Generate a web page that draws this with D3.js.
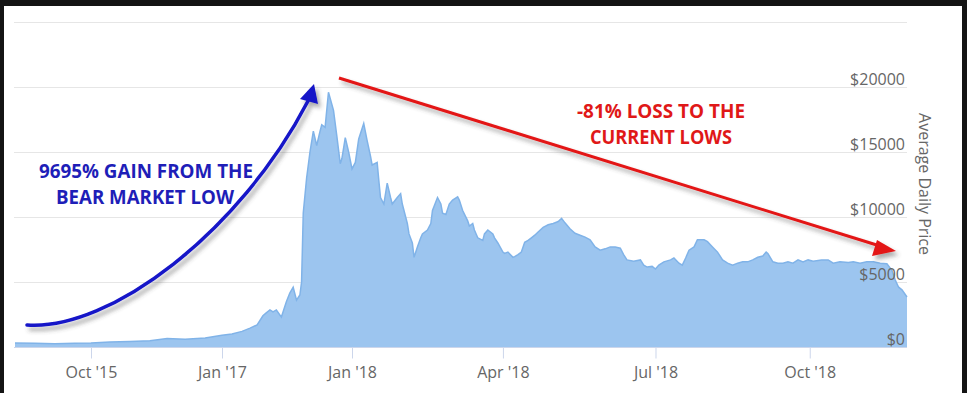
<!DOCTYPE html>
<html><head><meta charset="utf-8">
<script src="https://cdn.jsdelivr.net/npm/d3@7"></script>
<style>html,body{margin:0;padding:0;background:#fff;overflow:hidden}svg{display:block}</style>
</head><body><svg id="c" width="967" height="393"></svg>
<script>
// ---------- data ----------
const dates = [
"2015-01-06","2015-03-17","2015-05-26","2015-08-04","2015-10-01","2015-12-06","2016-02-14","2016-04-24",
"2016-06-23","2016-08-25","2016-11-03","2017-01-01","2017-03-04","2017-05-06","2017-06-25","2017-08-08",
"2017-09-13","2017-10-02","2017-10-27","2017-11-15",
"2017-11-17","2017-11-20","2017-11-23","2017-11-25","2017-11-27","2017-11-29","2017-12-01","2017-12-02",
"2017-12-03","2017-12-05","2017-12-07","2017-12-09","2017-12-11","2017-12-13","2017-12-14","2017-12-16",
"2017-12-18","2017-12-21","2017-12-23","2017-12-25","2017-12-26","2017-12-28","2017-12-30",
"2018-01-01","2018-01-03","2018-01-05","2018-01-08","2018-01-10","2018-01-12","2018-01-13","2018-01-16",
"2018-01-17","2018-01-18","2018-01-20","2018-01-22","2018-01-24","2018-01-25","2018-01-28","2018-01-30",
"2018-01-31","2018-02-03","2018-02-04","2018-02-06","2018-02-07","2018-02-09","2018-02-11","2018-02-12",
"2018-02-15","2018-02-17","2018-02-18","2018-02-21","2018-02-23","2018-02-24","2018-02-26","2018-02-28",
"2018-03-02","2018-03-05","2018-03-06","2018-03-08","2018-03-11","2018-03-12","2018-03-14","2018-03-15",
"2018-03-17","2018-03-20","2018-03-21","2018-03-23","2018-03-26","2018-03-27","2018-03-29","2018-04-01",
"2018-04-02","2018-04-04","2018-04-07","2018-04-08","2018-04-10","2018-04-12","2018-04-14","2018-04-16",
"2018-04-18","2018-04-20","2018-04-22","2018-04-25","2018-04-28","2018-05-01","2018-05-04","2018-05-06",
"2018-05-08","2018-05-11","2018-05-14","2018-05-17","2018-05-20","2018-05-23","2018-05-26","2018-05-29",
"2018-06-01","2018-06-04","2018-06-07","2018-06-10","2018-06-12","2018-06-14","2018-06-18","2018-06-22",
"2018-06-24","2018-06-26","2018-06-29","2018-07-01","2018-07-03","2018-07-06","2018-07-10","2018-07-12",
"2018-07-15","2018-07-17","2018-07-19","2018-07-21","2018-07-24","2018-07-26","2018-07-30","2018-08-01",
"2018-08-04","2018-08-07","2018-08-10","2018-08-13","2018-08-16","2018-08-19","2018-08-22","2018-08-25",
"2018-08-28","2018-08-31","2018-09-03","2018-09-05","2018-09-06","2018-09-09","2018-09-12","2018-09-15",
"2018-09-18","2018-09-21","2018-09-24","2018-09-27","2018-09-30","2018-10-03","2018-10-08","2018-10-12",
"2018-10-15","2018-10-19","2018-10-24","2018-10-27","2018-10-31","2018-11-04","2018-11-08","2018-11-12",
"2018-11-16","2018-11-19","2018-11-21","2018-11-23","2018-11-25","2018-11-28"];
const prices = [
300,280,250,280,300,380,420,480,
650,600,700,900,1000,1200,1450,1700,
2400,2600,2850,2700,
2850,2300,3500,4150,4600,3600,4000,5000,
10300,13000,15000,16600,15500,16600,17100,16900,
19600,18200,16200,14100,14500,16100,15000,
13700,14200,16000,17200,15900,14700,14000,14200,
12800,11500,11000,12600,11500,11000,11500,11800,
11000,9500,8700,8000,6900,7700,8400,8700,
9000,9500,10500,11500,11000,10300,10200,11000,
11300,11550,11300,10500,9700,9300,9500,9000,
8400,8200,8700,9000,8700,8400,8000,7300,
7200,7300,6900,6950,7100,7300,8050,8200,
8400,8600,8850,9200,9400,9500,9650,9900,
9550,9100,8750,8600,8450,8250,7700,7450,
7550,7700,7700,7600,7100,6700,6600,6700,
6300,6150,6200,6000,6300,6550,6700,6850,
6450,6300,6850,7450,7700,8250,8250,8100,
7700,7300,6700,6450,6300,6450,6550,6550,
6700,6900,7000,7300,7200,6550,6450,6450,
6550,6450,6700,6550,6700,6600,6700,6700,
6450,6550,6500,6550,6450,6550,6550,6450,
6400,5900,5150,4600,4400,3850];
const tickDates  = ["2015-10-01","2017-01-01","2018-01-01","2018-04-01","2018-07-01","2018-10-01"];
const tickLabels = ["Oct '15","Jan '17","Jan '18","Apr '18","Jul '18","Oct '18"];
const yTicks      = [0,5000,10000,15000,20000,25000];
const yTickLabels = ["$0","$5000","$10000","$15000","$20000",""];
const axisTitle = "Average Daily Price";
const gainText = ["9695% GAIN FROM THE","BEAR MARKET LOW"];
const lossText = ["-81% LOSS TO THE","CURRENT LOWS"];
// axis breakpoints of the (non-uniform) time axis as drawn in the source
const axisBreaks = ["2015-01-06","2015-10-01","2017-01-01","2017-11-15","2018-01-01","2018-11-28"];

// ---------- chart ----------
const parse = d3.utcParse("%Y-%m-%d");
const data = dates.map((d,i)=>({date:parse(d), v:prices[i]}));
const svg = d3.select("#c");
const W=967,H=393;
svg.append("rect").attr("width",W).attr("height",H).attr("fill","#fff");

const x = d3.scaleUtc().domain(axisBreaks.map(parse)).range([15,91,222,273,352,907]);
const y = d3.scaleLinear().domain([0,25000]).range([347,22]);

const defs = svg.append("defs");
const f = defs.append("filter").attr("id","sh").attr("x","-20%").attr("y","-20%").attr("width","140%").attr("height","140%");
f.append("feDropShadow").attr("dx",3).attr("dy",4).attr("stdDeviation",2).attr("flood-color","#444").attr("flood-opacity",0.45);

// grid
svg.append("g").selectAll("line").data(yTicks).join("line")
  .attr("x1",14).attr("x2",907).attr("y1",d=>Math.round(y(d))+0.5).attr("y2",d=>Math.round(y(d))+0.5)
  .attr("stroke","#e6e6e6").attr("stroke-width",1);

// area
const area = d3.area().x(d=>x(d.date)).y0(y(0)).y1(d=>y(d.v));
const line = d3.line().x(d=>x(d.date)).y(d=>y(d.v));
svg.append("path").datum(data).attr("d",area).attr("fill","#9cc5ef");
svg.append("path").datum(data).attr("d",line).attr("fill","none").attr("stroke","#80b3e8").attr("stroke-width",1.5);

// x axis
const xAxis = d3.axisBottom(x).tickValues(tickDates.map(parse))
  .tickFormat((d,i)=>tickLabels[i]).tickSize(11).tickPadding(8);
const gx = svg.append("g").attr("transform","translate(0,347.5)").call(xAxis);
gx.select(".domain").attr("stroke","#ccd6eb").attr("d","M14,0H907");
gx.selectAll(".tick line").attr("stroke","#ccd6eb");
gx.selectAll(".tick text").attr("fill","#666").style("font-family","'Open Sans',sans-serif").style("font-size","16px");

// y labels (right, inside)
svg.append("g").selectAll("text").data(yTicks).join("text")
  .attr("x",905).attr("y",d=>y(d)-2).attr("text-anchor","end")
  .attr("fill","#666").style("font-family","'Open Sans',sans-serif").style("font-size","16px")
  .text((d,i)=>yTickLabels[i]);

// y axis title
svg.append("text").attr("transform","translate(919,184) rotate(90)").attr("text-anchor","middle")
  .attr("fill","#666").style("font-family","'Open Sans',sans-serif").style("font-size","16px").text(axisTitle);

// blue curved arrow
const blue="#1414c8";
const ga = svg.append("g").attr("filter","url(#sh)");
ga.append("path").attr("d","M27,325 C110,331 240,232 308,101").attr("fill","none").attr("stroke",blue).attr("stroke-width",3.5).attr("stroke-linecap","round");
ga.append("path").attr("d","M314,84 L300,99 L318,104 Z").attr("fill",blue);

// red arrow
const red="#e31414";
const ra = svg.append("g").attr("filter","url(#sh)");
ra.append("path").attr("d","M339,78 L880,246").attr("stroke",red).attr("stroke-width",3).attr("fill","none");
ra.append("path").attr("d","M896,251 L877,240 L872,256 Z").attr("fill",red);

// annotation texts
const tf = "'Open Sans',sans-serif";
const gtx = [[146,178,214],[145,204,178]];
gainText.forEach((t,i)=>{
  svg.append("text").attr("x",gtx[i][0]).attr("y",gtx[i][1]).attr("text-anchor","middle")
    .attr("textLength",gtx[i][2]).attr("lengthAdjust","spacingAndGlyphs")
    .attr("fill","#1e1eb8").style("font-family",tf).style("font-weight","700").style("font-size","19.5px").text(t);
});
const ltx = [[661,118,168],[661,144,142]];
lossText.forEach((t,i)=>{
  svg.append("text").attr("x",ltx[i][0]).attr("y",ltx[i][1]).attr("text-anchor","middle")
    .attr("textLength",ltx[i][2]).attr("lengthAdjust","spacingAndGlyphs")
    .attr("fill","#e01818").style("font-family",tf).style("font-weight","700").style("font-size","19.5px").text(t);
});

// dark screenshot frame
svg.append("rect").attr("x",0).attr("y",0).attr("width",W).attr("height",6).attr("fill","#141414");
svg.append("rect").attr("x",0).attr("y",0).attr("width",4).attr("height",H).attr("fill","#141414");
svg.append("rect").attr("x",962).attr("y",0).attr("width",5).attr("height",H).attr("fill","#141414");
</script></body></html>
